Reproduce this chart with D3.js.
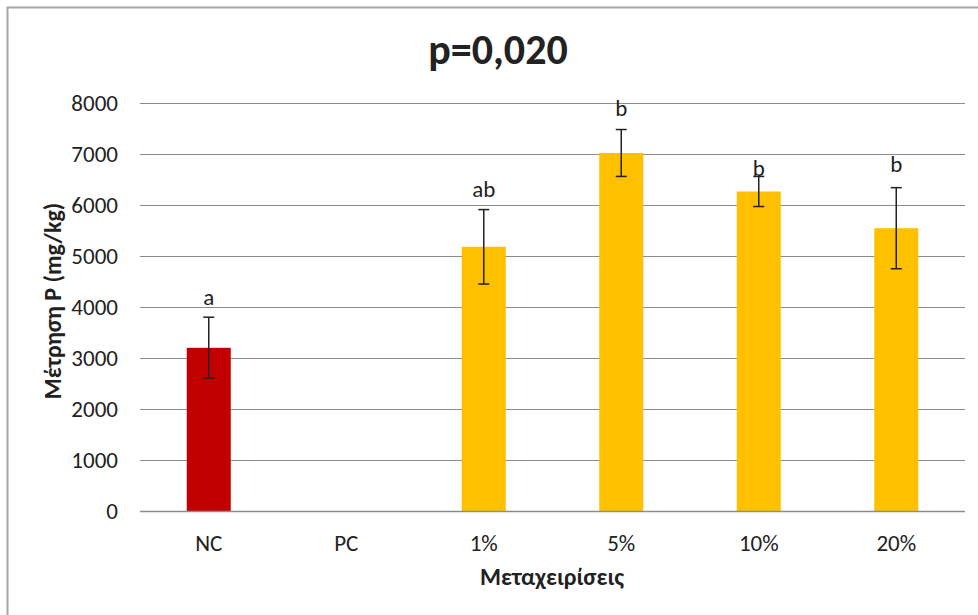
<!DOCTYPE html>
<html>
<head>
<meta charset="utf-8">
<script src="https://cdn.jsdelivr.net/npm/d3@7"></script>
<style>
  html, body { margin: 0; padding: 0; background: #fff; }
  svg { display: block; }
  text { font-family: Carlito, Calibri, "Open Sans", sans-serif; fill: #222; }
</style>
</head>
<body>
<svg id="chart" width="978" height="615"></svg>
<script>
// Treatments and measured P (mg/kg): mean, error half-width, significance letters
const categories = ["NC", "PC", "1%", "5%", "10%", "20%"];
const means      = [3200, null, 5180, 7020, 6265, 5545];
const errors     = [600,  null, 730,  460,  295,  795];
const letters    = ["a",  "",   "ab", "b",  "b",  "b"];
const letterAt   = [4190, null, 6310, 7900, 6730, 6810];
const barColors  = ["#C00000", "#C00000", "#FFC000", "#FFC000", "#FFC000", "#FFC000"];
const yTicks     = [0, 1000, 2000, 3000, 4000, 5000, 6000, 7000, 8000];

const svg = d3.select("#chart");
const margin = { left: 140, right: 13, top: 103, bottom: 104 };
const W = 978, H = 615;
const FONT = 'Carlito, Calibri, "Open Sans", sans-serif';

// outer chart frame
svg.append("rect")
  .attr("x", 7.5).attr("y", 7.5)
  .attr("width", W + 10).attr("height", H + 10)
  .attr("fill", "none").attr("stroke", "#a6a6a6").attr("stroke-width", 2);

const x = d3.scaleBand()
  .domain(categories)
  .range([margin.left, W - margin.right])
  .paddingInner(0.68).paddingOuter(0.34);

const y = d3.scaleLinear()
  .domain([0, 8000])
  .range([H - margin.bottom, margin.top]);

// horizontal gridlines
svg.append("g")
  .selectAll("line")
  .data(yTicks.filter(d => d > 0))
  .join("line")
  .attr("x1", margin.left).attr("x2", W - margin.right)
  .attr("y1", d => Math.round(y(d)) + 0.5).attr("y2", d => Math.round(y(d)) + 0.5)
  .attr("stroke", "#8c8c8c").attr("stroke-width", 1);

// y axis labels (no axis line)
const yAxis = svg.append("g")
  .attr("transform", `translate(${margin.left},0)`)
  .call(d3.axisLeft(y).tickValues(yTicks).tickSize(0).tickPadding(22).tickFormat(d3.format("d")));
yAxis.select(".domain").remove();
yAxis.selectAll("text")
  .attr("font-size", 23)
  .style("font-family", FONT)
  .attr("fill", "#333");

// bars
svg.append("g")
  .selectAll("rect")
  .data(categories.map((c, i) => ({ c, v: means[i], col: barColors[i] })).filter(d => d.v != null))
  .join("rect")
  .attr("x", d => x(d.c))
  .attr("width", x.bandwidth())
  .attr("y", d => y(d.v))
  .attr("height", d => y(0) - y(d.v))
  .attr("fill", d => d.col);

// category axis
const xAxis = svg.append("g")
  .attr("transform", `translate(0,${Math.round(y(0)) + 0.5})`)
  .call(d3.axisBottom(x).tickSize(0).tickPadding(23));
xAxis.select(".domain").attr("stroke", "#8c8c8c").attr("stroke-width", 1.5)
  .attr("d", `M${margin.left},0H${W - margin.right}`);
xAxis.selectAll("text")
  .attr("font-size", 23)
  .style("font-family", FONT)
  .attr("fill", "#333");

// error bars
const eb = svg.append("g").attr("stroke", "#222").attr("stroke-width", 1.5);
categories.forEach((c, i) => {
  if (means[i] == null) return;
  const cx = x(c) + x.bandwidth() / 2;
  const yTop = y(means[i] + errors[i]);
  const yBot = y(means[i] - errors[i]);
  eb.append("line").attr("x1", cx).attr("x2", cx).attr("y1", yTop).attr("y2", yBot);
  eb.append("line").attr("x1", cx - 5.5).attr("x2", cx + 5.5).attr("y1", yTop).attr("y2", yTop);
  eb.append("line").attr("x1", cx - 5.5).attr("x2", cx + 5.5).attr("y1", yBot).attr("y2", yBot);
});

// significance letters
svg.append("g")
  .selectAll("text")
  .data(categories.map((c, i) => ({ c, t: letters[i], v: letterAt[i] })).filter(d => d.v != null))
  .join("text")
  .attr("x", d => x(d.c) + x.bandwidth() / 2)
  .attr("y", d => y(d.v))
  .attr("dy", "0.35em")
  .attr("text-anchor", "middle")
  .attr("font-size", 23)
  .attr("fill", "#333")
  .text(d => d.t);

// title
svg.append("text")
  .attr("x", 498).attr("y", 64)
  .attr("text-anchor", "middle")
  .attr("font-size", 42)
  .attr("font-weight", "bold")
  .attr("fill", "#000")
  .text("p=0,020");

// axis titles
svg.append("text")
  .attr("x", 552).attr("y", 585)
  .attr("text-anchor", "middle")
  .attr("font-size", 24)
  .attr("font-weight", "bold")
  .attr("fill", "#111")
  .text("Μεταχειρίσεις");

svg.append("text")
  .attr("transform", "translate(61,301) rotate(-90)")
  .attr("text-anchor", "middle")
  .attr("font-size", 24)
  .attr("font-weight", "bold")
  .attr("fill", "#111")
  .text("Μέτρηση P (mg/kg)");
</script>
</body>
</html>
